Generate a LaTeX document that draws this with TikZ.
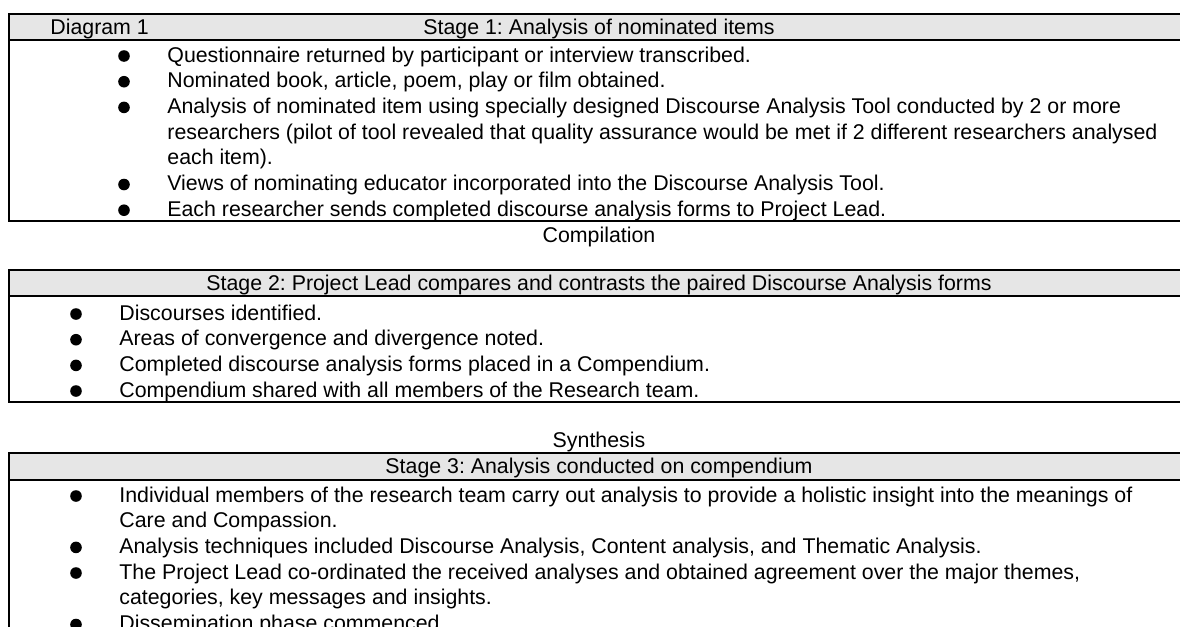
\documentclass[tikz,border=0pt]{standalone}
\usepackage{fontspec}
\setmainfont{Liberation Sans}
\newcommand{\bodyfont}{\fontsize{10.67pt}{12.9pt}\selectfont\frenchspacing}
\definecolor{headgray}{RGB}{230,230,230}
\tikzset{
  itemtext/.style={anchor=base west, inner sep=0pt, font=\bodyfont},
  headtext/.style={anchor=base, inner sep=0pt, font=\bodyfont},
  bulletdot/.style={circle, fill=black, inner sep=0pt, minimum size=5.8},
  rule/.style={line width=1pt},
}
\begin{document}
\begin{tikzpicture}[x=0.5pt,y=-0.5pt]
\useasboundingbox (0,0) rectangle (1180,627);
\clip (0,0) rectangle (1180,627);

% ---------- Stage 1 table ----------
\fill[headgray] (9,14) rectangle (1190,40);
\draw[rule] (1190,14) -- (9,14) -- (9,221) -- (1190,221);
\draw[rule] (9,40) -- (1190,40);
\node[itemtext] (d1) at (50,34) {Diagram 1};
\node[headtext] (s1) at (599,34) {Stage 1: Analysis of nominated items};

\node[bulletdot] (b11) at (124,56) {};
\node[itemtext] (t11) at (167,62) {Questionnaire returned by participant or interview transcribed.};
\node[bulletdot] (b12) at (124,81.7) {};
\node[itemtext] (t12) at (167,87.7) {Nominated book, article, poem, play or film obtained.};
\node[bulletdot] (b13) at (124,107.4) {};
\node[itemtext] (t13a) at (167,113.4) {Analysis of nominated item using specially designed Discourse Analysis Tool conducted by 2 or more};
\node[itemtext] (t13b) at (167,139.1) {researchers (pilot of tool revealed that quality assurance would be met if 2 different researchers analysed};
\node[itemtext] (t13c) at (167,164.8) {each item).};
\node[bulletdot] (b14) at (124,184.5) {};
\node[itemtext] (t14) at (167,190.5) {Views of nominating educator incorporated into the Discourse Analysis Tool.};
\node[bulletdot] (b15) at (124,210.2) {};
\node[itemtext] (t15) at (167,216.2) {Each researcher sends completed discourse analysis forms to Project Lead.};

\node[headtext] (comp) at (599,242) {Compilation};

% ---------- Stage 2 table ----------
\fill[headgray] (9,270) rectangle (1190,296);
\draw[rule] (1190,270) -- (9,270) -- (9,402) -- (1190,402);
\draw[rule] (9,296) -- (1190,296);
\node[headtext] (s2) at (599,290) {Stage 2: Project Lead compares and contrasts the paired Discourse Analysis forms};

\node[bulletdot] (b21) at (76,314) {};
\node[itemtext] (t21) at (119,320) {Discourses identified.};
\node[bulletdot] (b22) at (76,339.7) {};
\node[itemtext] (t22) at (119,345.7) {Areas of convergence and divergence noted.};
\node[bulletdot] (b23) at (76,365.4) {};
\node[itemtext] (t23) at (119,371.4) {Completed discourse analysis forms placed in a Compendium.};
\node[bulletdot] (b24) at (76,391) {};
\node[itemtext] (t24) at (119,397) {Compendium shared with all members of the Research team.};

\node[headtext] (syn) at (599,447) {Synthesis};

% ---------- Stage 3 table ----------
\fill[headgray] (9,453) rectangle (1190,480);
\draw[rule] (1190,453) -- (9,453) -- (9,640);
\draw[rule] (9,480) -- (1190,480);
\node[headtext] (s3) at (599,473.5) {Stage 3: Analysis conducted on compendium};

\node[bulletdot] (b31) at (76,496) {};
\node[itemtext] (t31a) at (119,502) {Individual members of the research team carry out analysis to provide a holistic insight into the meanings of};
\node[itemtext] (t31b) at (119,527.7) {Care and Compassion.};
\node[bulletdot] (b32) at (76,547.4) {};
\node[itemtext] (t32) at (119,553.4) {Analysis techniques included Discourse Analysis, Content analysis, and Thematic Analysis.};
\node[bulletdot] (b33) at (76,573) {};
\node[itemtext] (t33a) at (119,579) {The Project Lead co-ordinated the received analyses and obtained agreement over the major themes,};
\node[itemtext] (t33b) at (119,604.8) {categories, key messages and insights.};
\node[bulletdot] (b34) at (76,624.5) {};
\node[itemtext] (t34) at (119,630.5) {Dissemination phase commenced.};
\end{tikzpicture}
\end{document}
